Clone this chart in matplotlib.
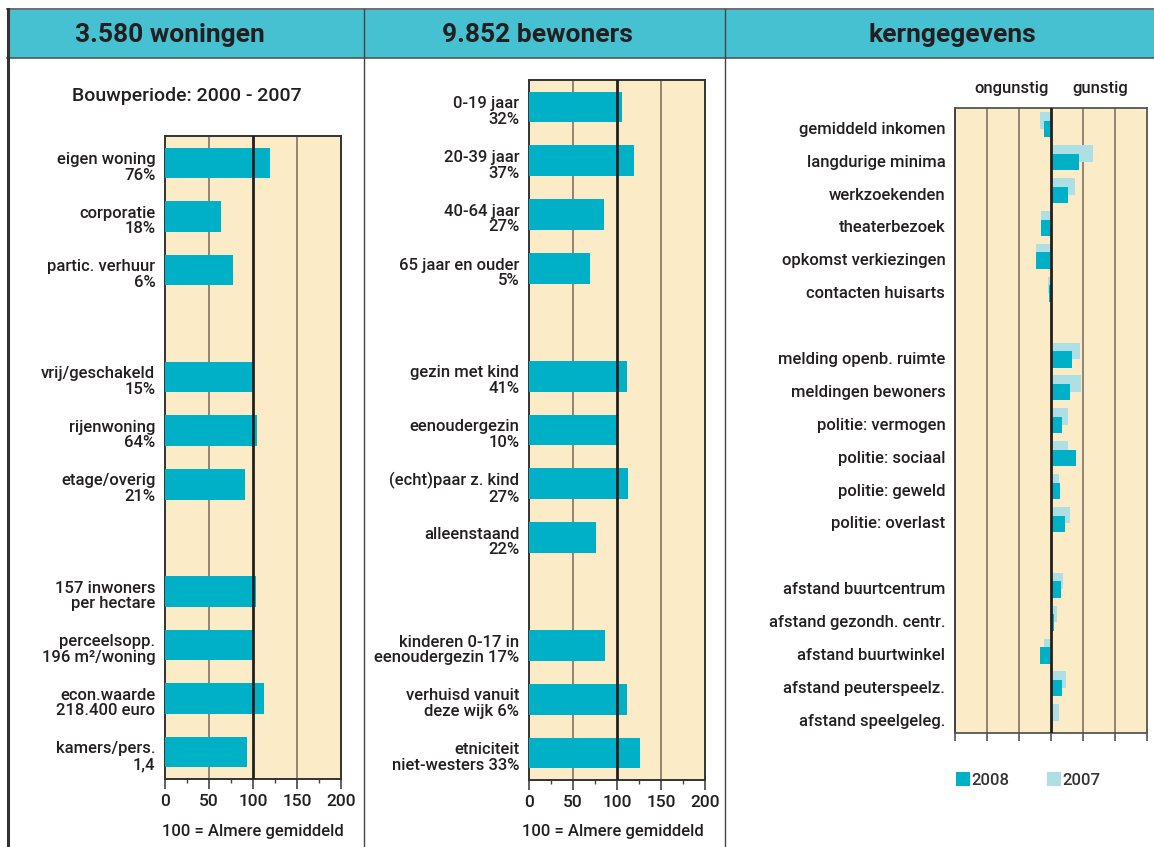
import matplotlib.pyplot as plt
from matplotlib.patches import Rectangle
from matplotlib.ticker import MultipleLocator

plt.rcParams["font.family"] = ["Roboto", "DejaVu Sans"]
plt.rcParams["font.weight"] = "medium"

W, H = 1154, 847

BAR = "#00b0c6"
BAR_LIGHT = "#aedfe4"
BG = "#fcebc7"
HEAD = "#45c1d2"
GRID = "#8b7d6b"
INK = "#231f20"

# --- data -------------------------------------------------------------
woning_labels = [
    "eigen woning\n76%", "corporatie\n18%", "partic. verhuur\n6%",
    "vrij/geschakeld\n15%", "rijenwoning\n64%", "etage/overig\n21%",
    "157 inwoners\nper hectare", "perceelsopp.\n196 m²/woning",
    "econ.waarde\n218.400 euro", "kamers/pers.\n1,4",
]
woning_values = [119, 64, 77, 101, 105, 91, 103, 101, 112, 93]

bewoner_labels = [
    "0-19 jaar\n32%", "20-39 jaar\n37%", "40-64 jaar\n27%",
    "65 jaar en ouder\n5%", "gezin met kind\n41%", "eenoudergezin\n10%",
    "(echt)paar z. kind\n27%", "alleenstaand\n22%",
    "kinderen 0-17 in\neenoudergezin 17%", "verhuisd vanuit\ndeze wijk 6%",
    "etniciteit\nniet-westers 33%",
]
bewoner_values = [106, 119, 85, 69, 111, 100, 112, 76, 86, 111, 126]

kern_labels = [
    "gemiddeld inkomen", "langdurige minima", "werkzoekenden",
    "theaterbezoek", "opkomst verkiezingen", "contacten huisarts",
    "melding openb. ruimte", "meldingen bewoners", "politie: vermogen",
    "politie: sociaal", "politie: geweld", "politie: overlast",
    "afstand buurtcentrum", "afstand gezondh. centr.", "afstand buurtwinkel",
    "afstand peuterspeelz.", "afstand speelgeleg.",
]
kern_2008 = [-0.21, 0.88, 0.54, -0.30, -0.46, -0.05, 0.67, 0.60, 0.35,
             0.79, 0.29, 0.45, 0.32, 0.10, -0.33, 0.35, 0.07]
kern_2007 = [-0.35, 1.32, 0.76, -0.30, -0.46, -0.08, 0.92, 0.93, 0.54,
             0.54, 0.26, 0.60, 0.38, 0.20, -0.23, 0.48, 0.26]

# group sizes (one empty row between groups)
woning_groups = [3, 3, 4]
bewoner_groups = [4, 4, 3]
kern_groups = [6, 6, 5]


def slots(groups):
    pos, y = [], 0
    for g in groups:
        pos += list(range(y, y + g))
        y += g + 1
    return pos, pos[-1]


def px_rect(x0, y0, x1, y1):
    return [x0 / W, 1 - y1 / H, (x1 - x0) / W, (y1 - y0) / H]


fig = plt.figure(figsize=(W / 100, H / 100), dpi=100)

# header band and frame
fig.patches.append(Rectangle((8 / W, 1 - 58 / H), 1 - 8 / W, 48 / H,
                             transform=fig.transFigure, facecolor=HEAD,
                             edgecolor="none", zorder=0))
for yy in (9.5, 58):
    fig.add_artist(plt.Line2D([7 / W, 1], [1 - yy / H] * 2, color="#555555",
                              lw=1.2, transform=fig.transFigure))
fig.add_artist(plt.Line2D([7.5 / W] * 2, [0, 1 - 9 / H], color="#333333",
                          lw=2.2, transform=fig.transFigure))
for xx in (364, 725):
    fig.add_artist(plt.Line2D([xx / W] * 2, [0, 1 - 9.5 / H], color="#444444",
                              lw=1, transform=fig.transFigure))

for x, txt in [(170, "3.580 woningen"), (537, "9.852 bewoners"),
               (952, "kerngegevens")]:
    fig.text(x / W, 1 - 35 / H, txt, ha="center", va="center",
             fontsize=19, fontweight="bold", color=INK)


def index_panel(rect, labels, values, groups, sub_x):
    ax = fig.add_axes(px_rect(*rect))
    pos, last = slots(groups)
    ax.set_facecolor(BG)
    ax.barh(pos, values, height=0.57, color=BAR, zorder=3)
    ax.set_xlim(0, 200)
    ax.set_ylim(last + 0.5, -0.5)
    for xv in (50, 150):
        ax.axvline(xv, color=GRID, lw=1.3, zorder=1)
    ax.axvline(100, color=INK, lw=2, zorder=4)
    ax.set_yticks([p + 0.05 for p in pos])
    ax.set_yticklabels(labels, fontsize=12, color=INK, linespacing=1.05)
    ax.tick_params(axis="y", length=0, pad=7)
    ax.set_xticks([0, 50, 100, 150, 200])
    ax.xaxis.set_minor_locator(MultipleLocator(25))
    ax.tick_params(axis="x", which="major", length=7, width=1.2,
                   color="#444444", labelsize=12.5, labelcolor=INK, pad=4)
    ax.tick_params(axis="x", which="minor", length=3, width=1,
                   color="#444444")
    for sp in ax.spines.values():
        sp.set_color("#333333")
        sp.set_linewidth(1.4)
    fig.text(sub_x / W, 1 - 831 / H, "100 = Almere gemiddeld", ha="center",
             va="center", fontsize=12, color=INK)
    return ax


index_panel((165, 136, 341, 779), woning_labels, woning_values,
            woning_groups, 253)
fig.text(187 / W, 1 - 96 / H, "Bouwperiode: 2000 - 2007", ha="center",
         va="center", fontsize=14, color=INK)
index_panel((529, 80, 705, 780), bewoner_labels, bewoner_values,
            bewoner_groups, 613)

# kerngegevens
ax = fig.add_axes(px_rect(955, 108, 1147, 733))
pos, last = slots(kern_groups)
ax.set_facecolor(BG)
ax.barh([p - 0.12 for p in pos], kern_2007, height=0.5, color=BAR_LIGHT,
        zorder=2, label="2007")
ax.barh([p + 0.14 for p in pos], kern_2008, height=0.5, color=BAR,
        zorder=3, label="2008")
ax.set_xlim(-3, 3)
ax.set_ylim(last + 0.5, -0.5)
for xv in (-2, -1, 1, 2):
    ax.axvline(xv, color=GRID, lw=1.3, zorder=1)
ax.axvline(0, color=INK, lw=2, zorder=4)
ax.set_yticks([p + 0.1 for p in pos])
ax.set_yticklabels(kern_labels, fontsize=12, color=INK)
ax.tick_params(axis="y", length=0, pad=7)
ax.set_xticks(range(-3, 4))
ax.set_xticklabels([])
ax.tick_params(axis="x", length=6, width=1.2, color="#555555")
for name, sp in ax.spines.items():
    sp.set_color("#555555")
    sp.set_linewidth(1.3)
ax.spines["left"].set_color("#333333")
fig.text(1012 / W, 1 - 89 / H, "ongunstig", ha="center", va="center",
         fontsize=12, color=INK)
fig.text(1100 / W, 1 - 89 / H, "gunstig", ha="center", va="center",
         fontsize=12, color=INK)

handles, labs = ax.get_legend_handles_labels()
fig.legend(handles[::-1], labs[::-1], loc="center left",
           bbox_to_anchor=(941 / W, 1 - 780 / H), ncol=2, frameon=False,
           fontsize=12, handlelength=0.85, handleheight=0.85,
           handletextpad=0.1, columnspacing=2.2, labelcolor="#333333")

fig.savefig("out.png", dpi=100, facecolor="white")
